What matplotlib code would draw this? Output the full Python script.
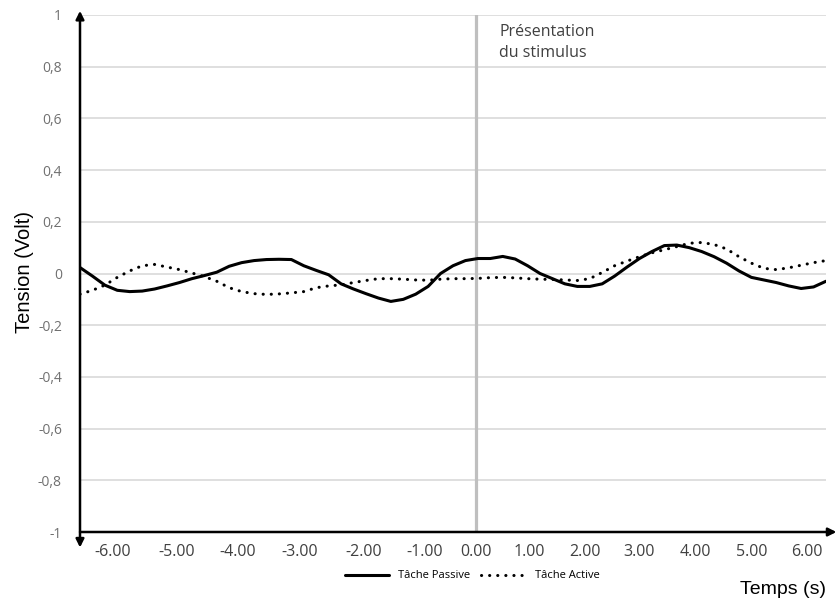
import numpy as np
import matplotlib.pyplot as plt

# échantillons (axe de catégories, pas régulier)
passive = [0.023, -0.010, -0.045, -0.065, -0.070, -0.068, -0.060, -0.048, -0.035, -0.020,
           -0.008, 0.005, 0.028, 0.042, 0.050, 0.054, 0.055, 0.054, 0.030, 0.012,
           -0.005, -0.040, -0.060, -0.078, -0.095, -0.108, -0.100, -0.080, -0.050, 0.000,
           0.030, 0.050, 0.058, 0.058, 0.066, 0.056, 0.030, 0.000, -0.020, -0.040,
           -0.050, -0.050, -0.040, -0.010, 0.025, 0.058, 0.085, 0.108, 0.110, 0.100,
           0.085, 0.065, 0.040, 0.010, -0.015, -0.025, -0.035, -0.048, -0.058, -0.052,
           -0.030]
active = [-0.080, -0.065, -0.045, -0.015, 0.010, 0.030, 0.035, 0.025, 0.015, 0.002,
          -0.012, -0.030, -0.055, -0.070, -0.078, -0.081, -0.079, -0.075, -0.070, -0.055,
          -0.048, -0.044, -0.035, -0.027, -0.020, -0.020, -0.022, -0.025, -0.026, -0.022,
          -0.020, -0.020, -0.019, -0.016, -0.015, -0.017, -0.020, -0.022, -0.023, -0.025,
          -0.027, -0.020, 0.004, 0.030, 0.048, 0.065, 0.080, 0.092, 0.104, 0.117,
          0.120, 0.112, 0.095, 0.065, 0.040, 0.020, 0.015, 0.022, 0.032, 0.042,
          0.050]

tick_labels = ["-6.00", "-5.00", "-4.00", "-3.00", "-2.00", "-1.00", "0.00",
               "1.00", "2.00", "3.00", "4.00", "5.00", "6.00"]
tick_pos = [2.6, 7.8, 12.7, 17.7, 22.8, 27.7, 31.85, 36.1, 40.65, 45.0, 49.5, 54.0, 58.45]
stimulus = 31.85

x = np.arange(len(passive))

fig = plt.figure(figsize=(8.36, 6.04), dpi=100)
ax = fig.add_axes([80/836, 72/604, 746/836, 517/604])

for yv in np.arange(-0.8, 1.01, 0.2):
    ax.axhline(yv, color="#d9d9d9", lw=1.2, zorder=0)
ax.axvline(stimulus, color="#bfbfbf", lw=2.3, zorder=1)

ax.plot(x, passive, color="black", lw=2.2, solid_capstyle="round", label="Tâche Passive", zorder=3)
ax.plot(x, active, color="black", lw=2.2, linestyle=(0, (0.05, 2.6)),
        dash_capstyle="round", label="Tâche Active", zorder=3)

ax.set_xlim(0, len(passive) - 1)
ax.set_ylim(-1, 1)
for s in ax.spines.values():
    s.set_visible(False)

ax.set_yticks(np.round(np.arange(-1, 1.01, 0.2), 1))
ax.set_yticklabels(["-1", "-0,8", "-0,6", "-0,4", "-0,2", "0", "0,2", "0,4", "0,6", "0,8", "1"],
                   fontfamily="Open Sans", fontsize=10, color="#707070")
ax.set_xticks(tick_pos)
ax.set_xticklabels(tick_labels, fontfamily="Open Sans", fontsize=11.5, color="#404040")
ax.tick_params(axis="y", length=0, pad=13)
ax.tick_params(axis="x", length=0, pad=9)

# axes avec flèches
ax.annotate("", xy=(1.014, 0), xytext=(0, 0), xycoords="axes fraction",
            arrowprops=dict(arrowstyle="-|>", color="black", lw=1.8, mutation_scale=12,
                            shrinkA=0, shrinkB=0), annotation_clip=False)
ax.annotate("", xy=(0, 1.008), xytext=(0, -0.03), xycoords="axes fraction",
            arrowprops=dict(arrowstyle="<|-|>", color="black", lw=1.8, mutation_scale=12,
                            shrinkA=0, shrinkB=0), annotation_clip=False)

ax.text(stimulus + 1.85, 0.965, "Présentation\ndu stimulus", fontfamily="Open Sans",
        fontsize=11.5, color="#404040", va="top", ha="left", linespacing=1.4)

fig.text(25/836, 332/604, "Tension (Volt)", rotation=90, ha="center", va="center",
         fontfamily="Liberation Sans", fontsize=14.5)
fig.text(826/836, 14/604, "Temps (s)", ha="right", va="center",
         fontfamily="Liberation Sans", fontsize=14)

fig.legend(loc="center", bbox_to_anchor=(472/836, 28/604), ncol=2, frameon=False,
           prop=dict(family="Open Sans", size=8), handlelength=4.0, columnspacing=1.0,
           handletextpad=0.8)

fig.savefig("out.png", dpi=100)
